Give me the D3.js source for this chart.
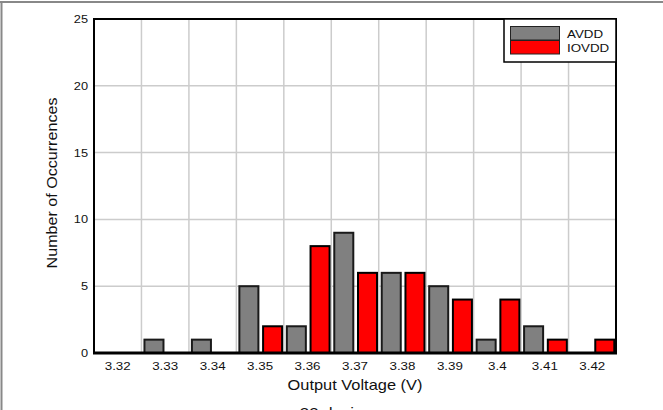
<!DOCTYPE html>
<html><head><meta charset="utf-8">
<script src="https://cdn.jsdelivr.net/npm/d3@7"></script>
<style>body{margin:0;background:#fff}svg{display:block;font-family:"Liberation Sans",Arial,sans-serif}</style>
</head><body>
<script>
const categories = ["3.32","3.33","3.34","3.35","3.36","3.37","3.38","3.39","3.4","3.41","3.42"];
const avdd  = [0,1,1,5,2,9,6,5,1,2,0];
const iovdd = [0,0,0,2,8,6,6,4,4,1,1];
const seriesNames = ["AVDD","IOVDD"];
const seriesColors = ["#808080","#ff0000"];
const yTicks = [0,5,10,15,20,25];

const W=663,H=410;
const L=94,R=616,T=19,B=353;
const K=1.16; // horizontal stretch of text to match reference glyph widths
const svg=d3.select("body").append("svg").attr("width",W).attr("height",H);

function stretch(sel,k){
  sel.each(function(){
    const n=this.getComputedTextLength();
    d3.select(this).attr("textLength",n*k).attr("lengthAdjust","spacingAndGlyphs");
  });
}

// outer frame
svg.append("line").attr("x1",0).attr("x2",W).attr("y1",2).attr("y2",2).attr("stroke","#888").attr("stroke-width",2);
svg.append("line").attr("x1",1.5).attr("x2",1.5).attr("y1",1).attr("y2",H).attr("stroke","#888").attr("stroke-width",2);

const x=d3.scaleBand().domain(categories).range([L,R]).padding(0);
const xs=d3.scaleBand().domain(seriesNames).range([0,x.bandwidth()]);
const y=d3.scaleLinear().domain([0,25]).range([B,T]);

// gridlines
const g=svg.append("g");
g.selectAll(".vg").data(categories.slice(1)).join("line")
 .attr("x1",d=>x(d)).attr("x2",d=>x(d)).attr("y1",T).attr("y2",B)
 .attr("stroke","#cccccc").attr("stroke-width",1.5);
g.selectAll(".hg").data(yTicks.slice(1,-1)).join("line")
 .attr("x1",L).attr("x2",R).attr("y1",d=>y(d)).attr("y2",d=>y(d))
 .attr("stroke","#cccccc").attr("stroke-width",1.5);

// bars
const data=[avdd,iovdd];
data.forEach((vals,si)=>{
  svg.append("g").selectAll("rect").data(categories.map((c,i)=>({c,v:vals[i]})).filter(d=>d.v>0)).join("rect")
   .attr("x",d=>x(d.c)+xs(seriesNames[si])+3)
   .attr("width",xs.bandwidth()-4.7)
   .attr("y",d=>y(d.v))
   .attr("height",d=>B-y(d.v))
   .attr("fill",seriesColors[si])
   .attr("stroke",si===0?"#1a1a1a":"#000")
   .attr("stroke-width",2);
});

// plot frame
svg.append("rect").attr("x",L).attr("y",T).attr("width",R-L).attr("height",B-T)
 .attr("fill","none").attr("stroke","#000").attr("stroke-width",2);
svg.append("line").attr("x1",L-1).attr("x2",R+1).attr("y1",B).attr("y2",B).attr("stroke","#000").attr("stroke-width",3);

// axes
const xa=svg.append("g").attr("transform",`translate(0,${B})`).call(d3.axisBottom(x).tickSize(0).tickPadding(9));
xa.select(".domain").remove();
xa.selectAll("text").attr("font-size",11.5).attr("fill","#111").attr("font-family","Liberation Sans, Arial, sans-serif");
stretch(xa.selectAll("text"),K);
const ya=svg.append("g").attr("transform",`translate(${L},0)`).call(d3.axisLeft(y).tickValues(yTicks).tickSize(0).tickPadding(6));
ya.select(".domain").remove();
ya.selectAll("text").attr("font-size",11).attr("fill","#111").attr("font-family","Liberation Sans, Arial, sans-serif");
stretch(ya.selectAll("text"),K);

// titles
const xt=svg.append("text").attr("x",(L+R)/2).attr("y",390).attr("text-anchor","middle").attr("font-size",14.5).attr("fill","#111").text("Output Voltage (V)");
stretch(xt,1.13);
const yt=svg.append("text").attr("transform",`translate(56.5,183) rotate(-90)`).attr("text-anchor","middle").attr("font-size",14.5).attr("fill","#111").text("Number of Occurrences");
stretch(yt,1.11);
const dv=svg.append("text").attr("x",340).attr("y",418).attr("text-anchor","middle").attr("font-size",15).attr("fill","#111").text("32 devices");
stretch(dv,1.12);

// legend
const lg=svg.append("g");
lg.append("rect").attr("x",504).attr("y",T).attr("width",R-504).attr("height",43).attr("fill","#fff").attr("stroke","#000").attr("stroke-width",1.5);
seriesNames.forEach((n,i)=>{
  lg.append("rect").attr("x",510.5).attr("y",26.5+i*14).attr("width",49).attr("height",13.5).attr("fill",seriesColors[i]).attr("stroke","#222").attr("stroke-width",1);
  const t=lg.append("text").attr("x",567).attr("y",37.5+i*14).attr("font-size",11.5).attr("fill","#111").text(n);
  stretch(t,K);
});
</script>
</body></html>
